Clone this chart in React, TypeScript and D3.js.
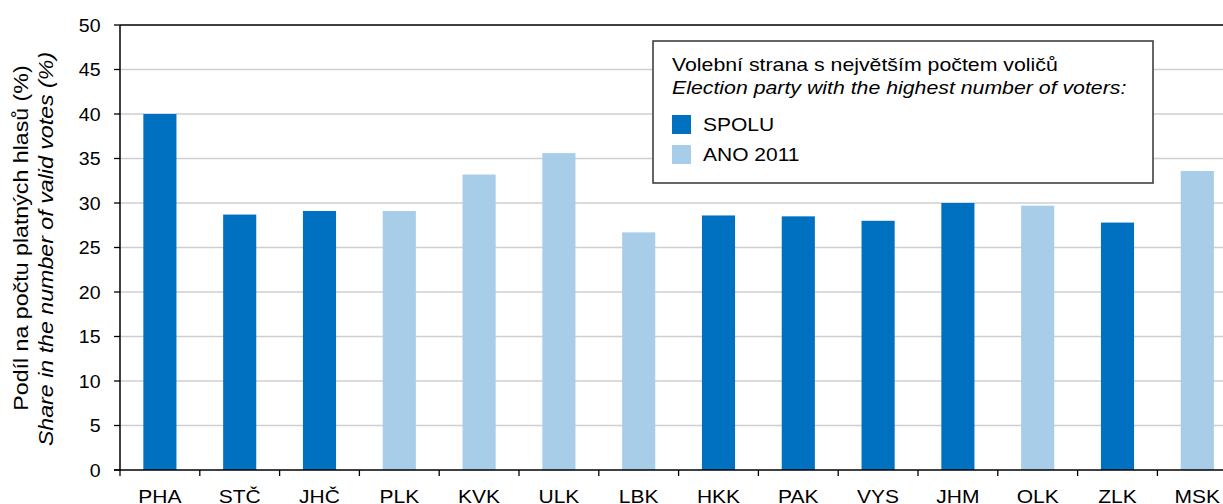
import React from "react";
import * as d3 from "d3";

const categories = ["PHA", "STČ", "JHČ", "PLK", "KVK", "ULK", "LBK", "HKK", "PAK", "VYS", "JHM", "OLK", "ZLK", "MSK"];
const values = [40.0, 28.7, 29.1, 29.1, 33.2, 35.6, 26.7, 28.6, 28.5, 28.0, 30.0, 29.7, 27.8, 33.6];
const winners = ["SPOLU", "SPOLU", "SPOLU", "ANO 2011", "ANO 2011", "ANO 2011", "ANO 2011", "SPOLU", "SPOLU", "SPOLU", "SPOLU", "ANO 2011", "SPOLU", "ANO 2011"];
const parties = ["SPOLU", "ANO 2011"];
const partyColors = ["#0070C0", "#A7CDE8"];
const yTicks = [0, 5, 10, 15, 20, 25, 30, 35, 40, 45, 50];
const yTitle1 = "Podíl na počtu platných hlasů (%)";
const yTitle2 = "Share in the number of valid votes (%)";
const legendTitle1 = "Volební strana s největším počtem voličů";
const legendTitle2 = "Election party with the highest number of voters:";

const W = 1223;
const H = 504;
const left = 120;
const step = 79.8;
const top = 25;
const bottom = 470;
const FONT = "Liberation Sans, Arial, sans-serif";

function SText(props: {
  x: number;
  y: number;
  sx?: number;
  anchor?: "start" | "middle" | "end";
  size: number;
  italic?: boolean;
  dy?: string;
  children: React.ReactNode;
}) {
  const { x, y, sx = 1.13, anchor = "start", size, italic, dy, children } = props;
  return (
    <text
      transform={`translate(${x},${y}) scale(${sx},1)`}
      textAnchor={anchor}
      fontSize={size}
      fontStyle={italic ? "italic" : "normal"}
      dy={dy}
      fill="#000"
    >
      {children}
    </text>
  );
}

export default function App() {
  const x = d3
    .scaleBand<string>()
    .domain(categories)
    .range([left, left + step * categories.length])
    .paddingInner(0.585)
    .paddingOuter(0.2925);
  const y = d3.scaleLinear().domain([0, 50]).range([bottom, top]);
  const color = d3.scaleOrdinal<string, string>().domain(parties).range(partyColors);
  const boundaries = d3.range(categories.length + 1).map((i) => left + i * step);

  return (
    <svg
      width={W}
      height={H}
      style={{ position: "absolute", left: 0, top: 0, background: "#fff" }}
      fontFamily={FONT}
    >
      {yTicks
        .filter((t) => t > 0 && t < 50)
        .map((t) => (
          <line key={"g" + t} x1={left} x2={W} y1={y(t)} y2={y(t)} stroke="#cfcfcf" strokeWidth={1.3} />
        ))}
      {categories.map((c, i) => (
        <rect
          key={c}
          x={x(c)}
          y={y(values[i])}
          width={x.bandwidth()}
          height={y(0) - y(values[i])}
          fill={color(winners[i])}
        />
      ))}
      <line x1={left} x2={W} y1={y(50)} y2={y(50)} stroke="#000" strokeWidth={1.5} />
      <line x1={left} x2={left} y1={top} y2={bottom} stroke="#000" strokeWidth={1.5} />
      <line x1={left - 6} x2={W} y1={bottom} y2={bottom} stroke="#000" strokeWidth={1.5} />
      {yTicks.map((t) => (
        <g key={"yt" + t}>
          <line x1={left - 6} x2={left} y1={y(t)} y2={y(t)} stroke="#000" strokeWidth={1.3} />
          <SText x={100.5} y={y(t)} dy="0.36em" anchor="end" size={18.6} sx={1.05}>
            {t}
          </SText>
        </g>
      ))}
      {boundaries.map((b, i) => (
        <line key={"xt" + i} x1={b} x2={b} y1={bottom} y2={bottom + 6} stroke="#000" strokeWidth={1.3} />
      ))}
      {categories.map((c) => (
        <SText key={"xl" + c} x={(x(c) as number) + x.bandwidth() / 2} y={502.5} anchor="middle" size={18.6}>
          {c}
        </SText>
      ))}
      <text
        transform={`translate(28, 238) rotate(-90) scale(1.16,1)`}
        textAnchor="middle"
        fontSize={20}
        fill="#000"
      >
        {yTitle1}
      </text>
      <text
        transform={`translate(53, 249) rotate(-90) scale(1.16,1)`}
        textAnchor="middle"
        fontSize={20}
        fontStyle="italic"
        fill="#000"
      >
        {yTitle2}
      </text>
      <g>
        <rect x={653} y={41} width={500} height={142} fill="#fff" stroke="#404040" strokeWidth={1.6} />
        <SText x={672} y={70.5} size={18.6} sx={1.145}>
          {legendTitle1}
        </SText>
        <SText x={672} y={93.5} size={18.6} sx={1.145} italic>
          {legendTitle2}
        </SText>
        {parties.map((p, i) => (
          <g key={p}>
            <rect x={672} y={115 + i * 30} width={19} height={19} fill={color(p)} />
            <SText x={703} y={131 + i * 30} size={18.6}>
              {p}
            </SText>
          </g>
        ))}
      </g>
    </svg>
  );
}
